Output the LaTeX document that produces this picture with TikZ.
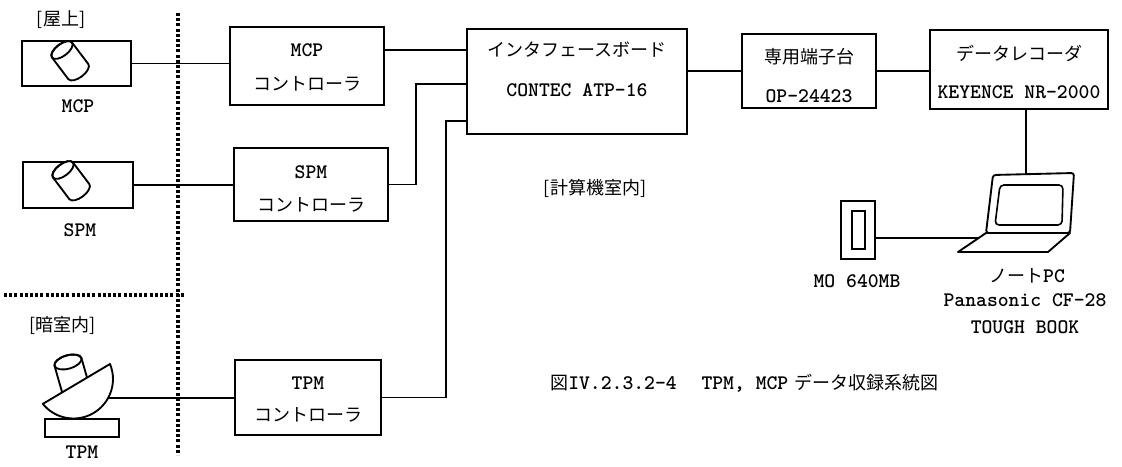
\documentclass[tikz,border=0pt]{standalone}
\usepackage{fontspec}
\newfontfamily\cjk{Noto Sans CJK JP}
\usetikzlibrary{calc}
\newcommand\jp[1]{{\cjk\mdseries\fontsize{13.5pt}{16pt}\selectfont #1}}
\begin{document}
\begin{tikzpicture}[x=0.75pt,y=-0.75pt,
  every node/.style={font=\ttfamily\bfseries\fontsize{15.5pt}{18pt}\selectfont, inner sep=0pt},
  box/.style={draw, line width=1.4pt, rectangle},
  wire/.style={line width=1.2pt},
  fence/.style={line width=2.6pt, dash pattern=on 2.2pt off 1.7pt},
  solid shape/.style={draw, line width=1.4pt, fill=white, line join=round}]
\useasboundingbox (0,0) rectangle (1122,467);

% zone boundaries
\coordinate (fenceTop) at (178,13);
\coordinate (fenceBot) at (178,455);
\coordinate (fenceL) at (4,295);
\coordinate (fenceR) at (184,295);
\draw[fence] (fenceTop) -- (fenceBot);
\draw[fence] (fenceL) -- (fenceR);

% zone labels
\node (roof) at (61,20) {\jp{[屋上]}};
\node (dark) at (63,325) {\jp{[暗室内]}};
\node (comp) at (595,188) {\jp{[計算機室内]}};

% sensor housings
\node[box, minimum width=81.75pt, minimum height=33.75pt] (mcpbox) at (76.5,63.5) {};
\node[box, minimum width=82.5pt, minimum height=34.5pt] (spmbox) at (78,185) {};
\node (mcplbl) at (78,106) {MCP};
\node (spmlbl) at (80,230) {SPM};
\node (tpmlbl) at (82,452) {TPM};

% tilted cylinder sensors
\foreach \cx/\cy in {62/50, 63/170}{
  \begin{scope}[shift={(\cx,\cy)}, rotate=37]
    \draw[solid shape] (-12.5,0) -- (-12.5,27)
      arc[start angle=180, end angle=360, x radius=9.4pt, y radius=4.5pt]
      -- (12.5,0)
      arc[start angle=0, end angle=180, x radius=9.4pt, y radius=4.5pt] -- cycle;
    \draw[line width=1.4pt] (0,0) ellipse[x radius=9.4pt, y radius=4.5pt];
  \end{scope}
}

% telescope on its mount
\node[box, minimum width=55.5pt, minimum height=13.5pt] (tpmbase) at (82,428) {};
\begin{scope}[shift={(68,362)}, rotate=16]
  \draw[solid shape] (-14,0) -- (-14,35) -- (14,35) -- (14,0)
    arc[start angle=0, end angle=180, x radius=10.5pt, y radius=5pt] -- cycle;
  \draw[line width=1.4pt] (0,0) ellipse[x radius=10.5pt, y radius=5pt];
\end{scope}
\coordinate (domeB) at (110,364);
\draw[solid shape] (domeB) arc[start angle=22.4, end angle=-141, radius=29.6pt] -- cycle;
\coordinate (tpmout) at (108,398);

% controllers
\node[box, minimum width=115.5pt, minimum height=58.5pt] (mcpctl) at (307,66) {};
\node (mcpctlA) at (307,50) {MCP};
\node (mcpctlB) at (307,84) {\jp{コントローラ}};
\node[box, minimum width=115.5pt, minimum height=54.75pt] (spmctl) at (311,184.5) {};
\node (spmctlA) at (311,172) {SPM};
\node (spmctlB) at (311,205) {\jp{コントローラ}};
\node[box, minimum width=109.5pt, minimum height=56.25pt] (tpmctl) at (308,397.5) {};
\node (tpmctlA) at (308,383) {TPM};
\node (tpmctlB) at (308,415) {\jp{コントローラ}};

% acquisition chain
\node[box, minimum width=165pt, minimum height=78.75pt] (ifbox) at (577,81.5) {};
\node (ifA) at (577,50) {\jp{インタフェースボード}};
\node (ifB) at (577,90) {CONTEC ATP-16};
\node[box, minimum width=100.5pt, minimum height=55.5pt] (termbox) at (809,71) {};
\node (termA) at (809,57) {\jp{専用端子台}};
\node (termB) at (809,96) {OP-24423};
\node[box, minimum width=133.5pt, minimum height=59.25pt] (recbox) at (1019,69.5) {};
\node (recA) at (1019,53) {\jp{データレコーダ}};
\node (recB) at (1019,92) {KEYENCE NR-2000};

% MO drive
\node[box, minimum width=25.5pt, minimum height=43.5pt] (mo) at (858,230) {};
\node[box, line width=1.2pt, minimum width=9.75pt, minimum height=28.5pt] (moslot) at (858.5,230) {};
\node (molbl) at (857,281) {MO 640MB};

% notebook PC
\draw[solid shape, rounded corners=2pt] (993,175) -- (1074,173) -- (1070,233) -- (986,233) -- cycle;
\draw[solid shape, line width=1.2pt, rounded corners=3pt] (1000,185) -- (1063,185) -- (1062,225) -- (995,225) -- cycle;
\draw[solid shape] (986,233) -- (958,252) -- (1048,252) -- (1070,233) -- cycle;
\coordinate (pcTop) at (1026,174);
\coordinate (pcPort) at (979,238);
\node (pcA) at (1027,276) {\jp{ノート}PC};
\node (pcB) at (1025,300) {Panasonic CF-28};
\node (pcC) at (1025,327) {TOUGH BOOK};

% caption
\node[anchor=west] (caption) at (550,383) {\jp{図}IV.2.3.2-4\hspace{1.2em}TPM, MCP\hspace{0.3em}\jp{データ収録系統図}};

% wiring
\draw[wire] (mcpbox.east) -- (mcpbox.east -| mcpctl.west);
\draw[wire] (spmbox.east) -- (spmbox.east -| spmctl.west);
\draw[wire] (tpmout) -- (tpmout -| tpmctl.west);
\draw[wire] ([yshift=12pt]mcpctl.east) coordinate (mcpout) -- (mcpout -| ifbox.west);
\draw[wire] (spmctl.east) -- ++(27,0) |- ([yshift=-1.9pt]ifbox.west);
\draw[wire] (tpmctl.east) -- ++(64,0) |- ([yshift=-29.6pt]ifbox.west);
\draw[wire] (termbox.west -| ifbox.east) -- (termbox.west);
\draw[wire] (termbox.east) -- (termbox.east -| recbox.west);
\draw[wire] (pcTop |- recbox.south) -- (pcTop);
\draw[wire] (pcPort -| mo.east) -- (pcPort);
\end{tikzpicture}
\end{document}
